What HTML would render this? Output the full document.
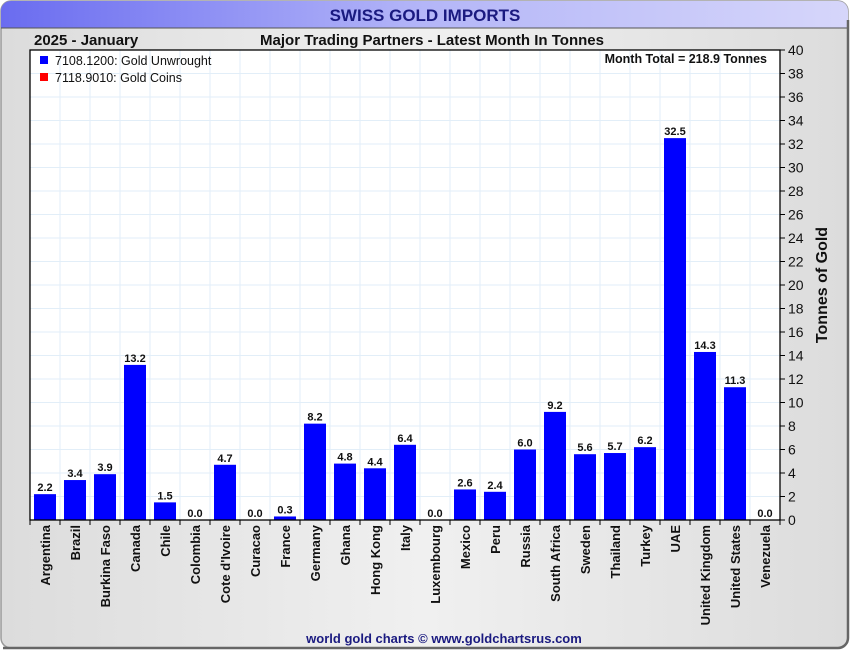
<!DOCTYPE html>
<html><head><meta charset="utf-8"><style>
html,body{margin:0;padding:0;width:850px;height:650px;overflow:hidden;background:#fff}
svg{display:block;font-family:"Liberation Sans",Arial,sans-serif}
</style></head><body>
<svg id="s" width="850" height="650" xmlns="http://www.w3.org/2000/svg">
<defs>
<linearGradient id="hd" x1="0" x2="1" y1="0" y2="0"><stop offset="0" stop-color="#6a6cf0"/><stop offset="0.5" stop-color="#b4b6f8"/><stop offset="1" stop-color="#d6d6fa"/></linearGradient>
<linearGradient id="bg" x1="0" x2="1" y1="0" y2="0"><stop offset="0" stop-color="#dcdcdc"/><stop offset="0.5" stop-color="#f0f0f0"/><stop offset="1" stop-color="#dcdcdc"/></linearGradient>
</defs>
<rect x="1" y="1" width="847" height="647" rx="10" fill="url(#bg)" stroke="#9a9a9a" stroke-width="1.5"/>
<path d="M1,28 V11 A10,10 0 0 1 11,1 H838 A10,10 0 0 1 848,11 V28 Z" fill="url(#hd)"/>
<line x1="1" y1="28" x2="848" y2="28" stroke="#555" stroke-width="1"/>
<path d="M3,648 H838 A10,10 0 0 0 848,638 V20" fill="none" stroke="#666" stroke-width="2.5"/>
<text x="425" y="21" text-anchor="middle" font-size="17" font-weight="bold" fill="#1a1a80">SWISS GOLD IMPORTS</text>
<text x="34" y="45" font-size="15" font-weight="bold" fill="#111">2025 - January</text>
<text x="432" y="45" text-anchor="middle" font-size="15" font-weight="bold" fill="#111">Major Trading Partners - Latest Month In Tonnes</text>
<rect x="30" y="50" width="750" height="470" fill="#fff"/>
<g id="g"></g>
<rect x="30" y="50" width="750" height="470" fill="none" stroke="#000" stroke-width="1.3"/>
<rect x="40" y="56" width="8" height="8" fill="#0000ff"/>
<text x="55" y="65" font-size="12.5" fill="#111">7108.1200: Gold Unwrought</text>
<rect x="40" y="73" width="8" height="8" fill="#ff0000"/>
<text x="55" y="82" font-size="12.5" fill="#111">7118.9010: Gold Coins</text>
<text x="767" y="63" text-anchor="end" font-size="12.5" font-weight="bold" fill="#111">Month Total = 218.9 Tonnes</text>
<text transform="translate(827,285) rotate(-90)" text-anchor="middle" font-size="16" font-weight="bold" fill="#111">Tonnes of Gold</text>
<text x="444" y="643" text-anchor="middle" font-size="13" font-weight="bold" fill="#1a1a80">world gold charts © www.goldchartsrus.com</text>
</svg>
<script>
var names=["Argentina","Brazil","Burkina Faso","Canada","Chile","Colombia","Cote d'Ivoire","Curacao","France","Germany","Ghana","Hong Kong","Italy","Luxembourg","Mexico","Peru","Russia","South Africa","Sweden","Thailand","Turkey","UAE","United Kingdom","United States","Venezuela"];
var v=[2.2,3.4,3.9,13.2,1.5,0,4.7,0,0.3,8.2,4.8,4.4,6.4,0,2.6,2.4,6.0,9.2,5.6,5.7,6.2,32.5,14.3,11.3,0];
var s="",L=30,B=520,k=11.75,W=30;
for(var i=1;i<20;i++){var y=B-i*2*k;s+='<line x1="30" x2="780" y1="'+y+'" y2="'+y+'" stroke="#e2eef8" stroke-width="1"/>';}
for(var i=1;i<25;i++){var x=L+i*W;s+='<line x1="'+x+'" x2="'+x+'" y1="50" y2="520" stroke="#e2eef8" stroke-width="1"/>';}
for(var i=0;i<25;i++){var c=L+i*W+W/2,h=v[i]*k;
 s+='<rect x="'+(c-11)+'" y="'+(B-h)+'" width="22" height="'+h+'" fill="#0000ff"/>';
 s+='<text x="'+c+'" y="'+(B-h-3)+'" text-anchor="middle" font-size="11" font-weight="bold" fill="#111">'+v[i].toFixed(1)+'</text>';
 s+='<text transform="translate('+(c+5)+',525) rotate(-90)" text-anchor="end" font-size="13" font-weight="bold" fill="#111">'+names[i].replace("'","&#39;")+'</text>';
 s+='<line x1="'+(L+i*W)+'" x2="'+(L+i*W)+'" y1="520" y2="525" stroke="#000"/>';}
s+='<line x1="780" x2="780" y1="520" y2="525" stroke="#000"/>';
for(var i=0;i<=20;i++){var y=B-i*2*k;s+='<line x1="780" x2="785" y1="'+y+'" y2="'+y+'" stroke="#000"/><text x="788" y="'+(y+5)+'" font-size="14" fill="#111">'+(i*2)+'</text>';}
document.getElementById('g').innerHTML=s;
</script>
</body></html>
